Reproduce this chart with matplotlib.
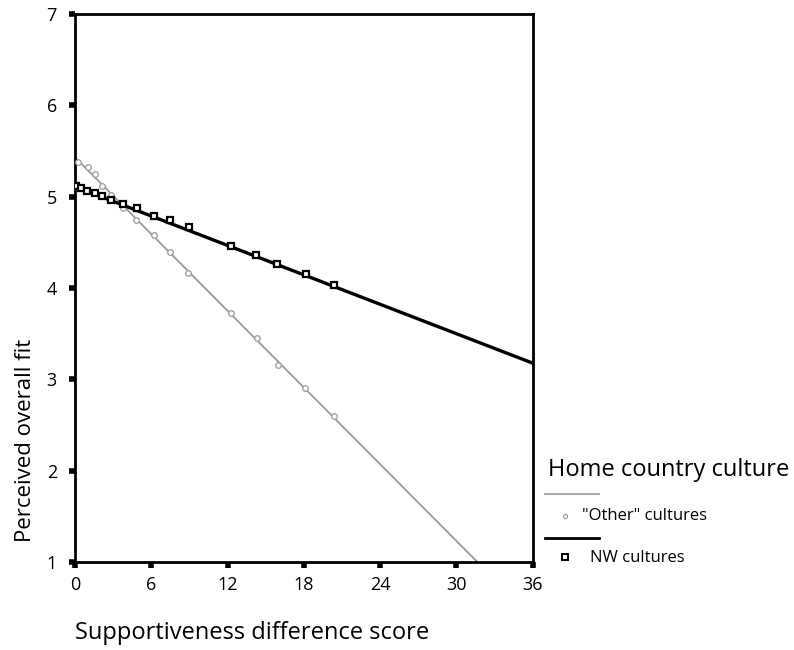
import matplotlib.pyplot as plt
from matplotlib.lines import Line2D
import numpy as np

# fitted lines (intercept, slope) per culture group
other_fit = (5.43, -0.140)
nw_fit = (5.11, -0.0537)

# observed points
other_x = [0.24, 1.0, 1.6, 2.1, 2.8, 3.8, 4.8, 6.2, 7.5, 8.9, 12.3, 14.3, 16.0, 18.1, 20.4]
other_y = [5.38, 5.32, 5.25, 5.12, 5.02, 4.88, 4.74, 4.58, 4.39, 4.16, 3.73, 3.45, 3.16, 2.90, 2.60]
nw_x = [0.08, 0.47, 0.95, 1.6, 2.1, 2.8, 3.8, 4.9, 6.2, 7.5, 9.0, 12.3, 14.2, 15.9, 18.2, 20.4]
nw_y = [5.12, 5.09, 5.06, 5.04, 5.01, 4.96, 4.92, 4.88, 4.79, 4.74, 4.67, 4.46, 4.36, 4.26, 4.15, 4.03]

xticks = [0, 6, 12, 18, 24, 30, 36]
yticks = [1, 2, 3, 4, 5, 6, 7]

plt.rcParams['font.family'] = ['Open Sans', 'DejaVu Sans']

fig = plt.figure(figsize=(7.94, 6.5), dpi=100)
ax = fig.add_axes([0.0945, 0.1354, 0.5765, 0.8431])

xs = np.linspace(0, 36, 200)
gray = '#9a9a9a'
ax.plot(xs, other_fit[0] + other_fit[1] * xs, color=gray, lw=1.3, zorder=2)
ax.plot(other_x, other_y, ls='none', marker='o', ms=4, mfc='white', mec=gray, mew=0.9, zorder=3)
ax.plot(xs, nw_fit[0] + nw_fit[1] * xs, color='black', lw=2.4, zorder=4)
ax.plot(nw_x, nw_y, ls='none', marker='s', ms=5, mfc='white', mec='black', mew=1.6, zorder=5)

ax.set_xlim(0, 36)
ax.set_ylim(1, 7)
ax.set_xticks(xticks)
ax.set_yticks(yticks)
ax.tick_params(length=4, width=4, labelsize=13)
ax.tick_params(axis='x', pad=6)
ax.tick_params(axis='y', pad=9)
for s in ax.spines.values():
    s.set_linewidth(2)

fig.text(0.032, 0.322, 'Perceived overall fit', rotation=90, ha='center', va='center', fontsize=16)
fig.text(0.094, 0.026, 'Supportiveness difference score', ha='left', va='center', fontsize=17)

# legend drawn by hand: title, line sample, marker + label
fig.text(0.69, 0.277, 'Home country culture', ha='left', va='center', fontsize=17)
fig.add_artist(Line2D([0.687, 0.755], [0.24, 0.24], color=gray, lw=1.2))
fig.add_artist(Line2D([0.712], [0.206], ls='none', marker='o', ms=3, mfc='white', mec=gray, mew=0.8))
fig.text(0.733, 0.206, '"Other" cultures', ha='left', va='center', fontsize=12)
fig.add_artist(Line2D([0.687, 0.755], [0.173, 0.173], color='black', lw=2))
fig.add_artist(Line2D([0.712], [0.143], ls='none', marker='s', ms=4, mfc='white', mec='black', mew=1.4))
fig.text(0.743, 0.141, 'NW cultures', ha='left', va='center', fontsize=12)

fig.savefig('out.png', dpi=100)
